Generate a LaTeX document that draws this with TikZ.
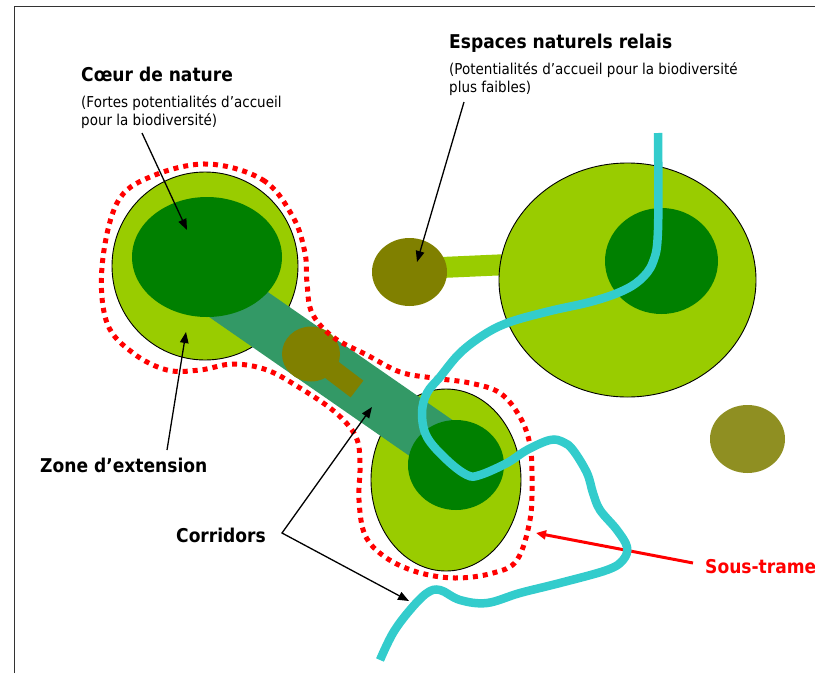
\documentclass[tikz,border=0pt]{standalone}
\usepackage{fontspec}
\setmainfont{DejaVu Sans}[FakeStretch=0.9]
\usetikzlibrary{arrows.meta}
\definecolor{lightgreen}{HTML}{99CC00}
\definecolor{darkgreen}{HTML}{008000}
\definecolor{corridorgreen}{HTML}{339966}
\definecolor{relaisolive}{HTML}{808000}
\definecolor{paleolive}{HTML}{8F8F22}
\definecolor{rivercyan}{HTML}{33CCCC}

\begin{document}
\begin{tikzpicture}[x=1pt, y=-1pt,
  title/.style={font=\fontsize{19}{22}\selectfont\bfseries, anchor=base west, inner sep=0pt},
  subtitle/.style={font=\fontsize{15}{17.5}\selectfont, anchor=north west, align=left, inner sep=0pt},
  ptrtip/.tip={Triangle[length=11pt,width=8.5pt]},
  ptr/.style={-ptrtip, line width=1.3pt},
  rim/.style={draw=black, line width=0.9pt, fill=lightgreen},
  band/.style={line width=#1, line cap=butt},
  dotline/.style={draw=red, line width=5pt, dash pattern=on 5pt off 5pt},
  river/.style={draw=rivercyan, line width=8.5pt}]
  \useasboundingbox (0,0) rectangle (815,673);
  % frame
  \draw[black!80, line width=1pt] (14,673) -- (14,6) -- (815,6);
  % outer zones
  \draw[band=21pt, lightgreen] (430,268) -- (520,264);
  \draw[rim] (205,266) ellipse [x radius=93pt, y radius=94pt];
  \draw[rim] (446,480) ellipse [x radius=75pt, y radius=91pt];
  \draw[rim] (627.5,280) ellipse [x radius=128.5pt, y radius=117pt];
  % corridor
  \draw[band=54pt, corridorgreen] (206,282) -- (444,447);
  \draw[band=21pt, relaisolive] (311,354) -- (357,389);
  \fill[relaisolive] (311,354) ellipse [x radius=29pt, y radius=27.5pt];
  % cores
  \fill[darkgreen] (207,257) ellipse [x radius=75pt, y radius=60pt];
  \fill[darkgreen] (456,465) ellipse [x radius=48pt, y radius=45pt];
  \fill[darkgreen] (661.5,261) ellipse [x radius=56.5pt, y radius=53pt];
  % relay spaces
  \fill[relaisolive] (409.5,272) ellipse [x radius=37.5pt, y radius=34pt];
  \fill[paleolive] (747.5,439) ellipse [x radius=37.5pt, y radius=34pt];
  % sub-network outline
  \draw[dotline] plot[smooth cycle, tension=0.6] coordinates {
    (207,164) (263,180) (293,217) (305,253) (307,283) (312,313) (333,337)
    (367,355) (400,372) (433,378) (470,383) (500,393) (520,417) (530,445)
    (532,480) (530,520) (517,560) (493,573) (455,578) (417,572) (385,557)
    (365,535) (359,500) (360,465) (356,437) (335,412) (300,388) (267,370)
    (233,364) (200,370) (167,370) (133,353) (107,323) (102,267) (117,203)
    (150,177)};
  % labels
  \node[title] (coeur) at (81,81) {Cœur de nature};
  \node[subtitle] (coeurtxt) at (81,95.5) {(Fortes potentialités d’accueil\\pour la biodiversité)};
  \node[title] (espaces) at (449,48) {Espaces naturels relais};
  \node[subtitle] (espacestxt) at (449,62.5) {(Potentialités d’accueil pour la biodiversité\\plus faibles)};
  \node[title] (zone) at (40,472) {Zone d’extension};
  \node[title] (corr) at (176,542) {Corridors};
  \node[title, text=red] (soustrame) at (705,573) {Sous-trame};
  % pointers
  \coordinate (coeurfrom) at (142,133);
  \coordinate (coeurto) at (187,230);
  \coordinate (zonefrom) at (167,450);
  \coordinate (zoneto) at (186,332);
  \coordinate (espfrom) at (464,102);
  \coordinate (espto) at (417,262);
  \coordinate (corrfrom) at (282,533);
  \coordinate (corrtoa) at (372,407);
  \coordinate (corrtob) at (409,601);
  \coordinate (stfrom) at (693,563);
  \coordinate (stto) at (536,533);
  \draw[ptr] (coeurfrom) -- (coeurto);
  \draw[ptr] (zonefrom) -- (zoneto);
  \draw[ptr] (espfrom) -- (espto);
  \draw[ptr, ptrtip-ptrtip] (corrtoa) -- (corrfrom) -- (corrtob);
  \draw[ptr, red, line width=3pt, -{Triangle[length=10pt,width=9pt]}] (stfrom) -- (stto);
  % river
  \draw[river] plot[smooth, tension=0.6] coordinates {
    (658,133) (658,230) (653,262) (640,280) (620,292) (590,302) (550,311)
    (510,322) (485,334) (460,353) (440,377) (427,393) (422,413) (427,437)
    (447,460) (467,475) (480,475) (507,463) (527,450) (550,440) (563,442)
    (573,450) (587,473) (593,493) (600,510) (617,530) (627,547) (623,560)
    (607,570) (560,583) (520,593) (487,603) (460,600) (440,590) (427,593)
    (410,610) (393,633) (380,660)};
\end{tikzpicture}
\end{document}
